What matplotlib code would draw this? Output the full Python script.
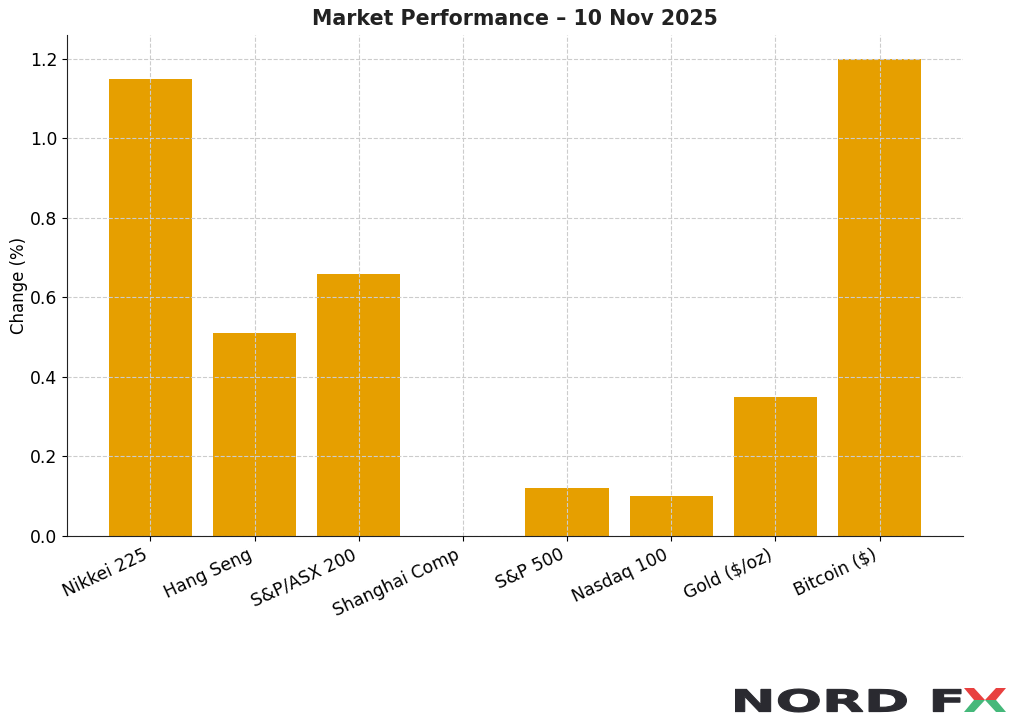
import matplotlib
matplotlib.use("Agg")
import matplotlib.pyplot as plt
from matplotlib.textpath import TextPath
from matplotlib.patches import PathPatch, Polygon
from matplotlib.font_manager import FontProperties
from matplotlib.transforms import Affine2D

plt.rcParams['font.family'] = ['DejaVu Sans']

categories = ["Nikkei 225", "Hang Seng", "S&P/ASX 200", "Shanghai Comp",
              "S&P 500", "Nasdaq 100", "Gold ($/oz)", "Bitcoin ($)"]
values = [1.15, 0.51, 0.66, 0.0, 0.12, 0.10, 0.35, 1.20]
title = "Market Performance – 10 Nov 2025"
ylabel = "Change (%)"
yticks = [0.0, 0.2, 0.4, 0.6, 0.8, 1.0, 1.2]
ytick_labels = ["0.0", "0.2", "0.4", "0.6", "0.8", "1.0", "1.2"]

fig = plt.figure(figsize=(10.24, 7.28), dpi=100)
ax = fig.add_axes([0.0654, 0.2637, 0.875, 0.6883])
x = list(range(len(categories)))
ax.bar(x, values, width=0.8, color="#E69F00", zorder=2)
ax.set_xlim(-0.8, len(categories) - 0.2)
ax.set_ylim(0, 1.26)
ax.grid(True, linestyle="--", color="#cccccc", linewidth=0.8, zorder=3)
ax.set_axisbelow(False)
for s in ["top", "right"]:
    ax.spines[s].set_visible(False)
ax.spines["left"].set_color("#222222")
ax.spines["bottom"].set_color("#222222")
ax.set_xticks(x)
ax.set_xticklabels(categories, rotation=25, ha="right", fontsize=12.4)
ax.tick_params(axis="y", labelsize=12.4)
ax.set_yticks(yticks)
ax.set_yticklabels(ytick_labels)
ax.set_ylabel(ylabel, fontsize=12, labelpad=1)
ax.set_title(title, fontsize=14.8, fontweight="bold", color="#222222", pad=7)

# Logo
lax = fig.add_axes([735/1024, (728-714)/728, 272/1024, 28/728])
lax.set_xlim(0, 272)
lax.set_ylim(0, 28)
lax.axis("off")
fp = FontProperties(family="DejaVu Sans", weight="heavy")
tp = TextPath((0, 0), "NORD F", size=10, prop=fp)
bb = tp.get_extents()
sx = 226 / bb.width
sy = 23 / bb.height
tr = Affine2D().translate(-bb.x0, -bb.y0).scale(sx, sy).translate(0, 2)
lax.add_patch(PathPatch(tr.transform_path(tp), facecolor="#2a2a30", edgecolor="#2a2a30", linewidth=0.8))
# X mark
x0, x1 = 229, 271
ym, yt, yb = 14, 26, 2
lax.add_patch(Polygon([(x0, yt), (x0 + 10, yt), (x0 + 21, ym), (x1 - 10, yt), (x1, yt), (x1 - 10, ym), (x0 + 10, ym)],
                      closed=True, facecolor="#e8403f", edgecolor="none"))
lax.add_patch(Polygon([(x0 + 10, ym), (x1 - 10, ym), (x1, yb), (x1 - 10, yb), (x0 + 21, ym), (x0 + 10, yb), (x0, yb)],
                      closed=True, facecolor="#45b87a", edgecolor="none"))

fig.savefig("out.png", dpi=100)
